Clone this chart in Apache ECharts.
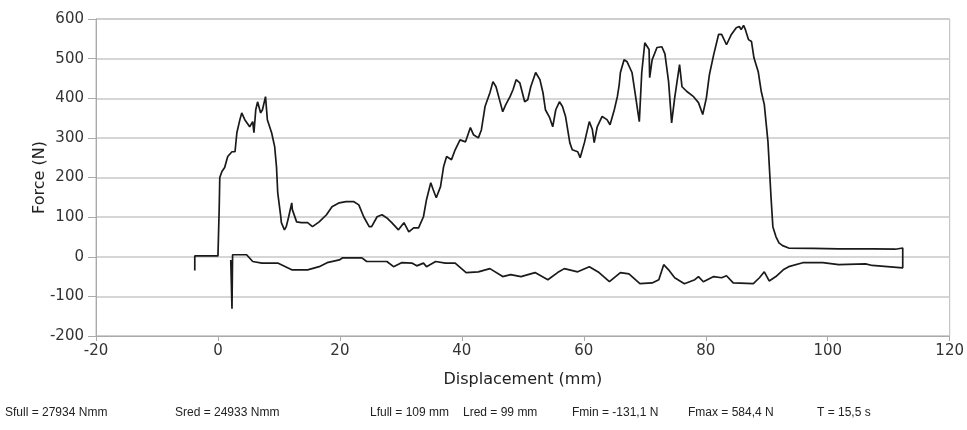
<!DOCTYPE html>
<html>
<head>
<meta charset="utf-8">
<style>
  html, body { margin: 0; padding: 0; background: #fff; }
  #chart { width: 967px; height: 430px; }
</style>
<script src="https://cdn.jsdelivr.net/npm/echarts@6/dist/echarts.min.js"></script>
</head>
<body>
<div id="chart"></div>
<script>
// displacement (mm) / force (N)
// loading branch first, then the return branch back to the left
const dispMm = [
  -3.8, -3.8, 0.0, 0.2, 0.3, 0.65, 1.1, 1.6, 2.3, 2.8, 3.1, 3.6, 3.9, 4.4, 5.2, 5.7, 5.9, 6.2, 6.5, 7.0,
  7.3, 7.8, 8.1, 8.8, 9.3, 9.6, 9.8, 10.3, 10.4, 10.9, 11.2, 11.6, 12.1, 12.2, 12.9, 13.7, 14.7, 15.5, 16.6, 17.8,
  18.7, 19.9, 21.0, 22.3, 23.1, 23.9, 24.8, 25.2, 26.1, 26.9, 27.7, 28.5, 29.6, 30.5, 31.3, 32.1, 32.9, 33.7, 34.2, 34.9,
  35.3, 35.8, 36.5, 37.0, 37.5, 38.3, 38.9, 39.7, 40.6, 41.4, 41.9, 42.7, 43.2, 43.8, 44.6, 45.1, 45.6, 46.3, 46.7, 47.2,
  47.9, 48.4, 48.9, 49.5, 50.3, 50.8, 51.3, 52.1, 52.8, 53.3, 53.7, 54.4, 54.9, 55.4, 56.0, 56.5, 57.0, 57.7, 58.1, 59.0,
  59.4, 60.1, 60.9, 61.4, 61.7, 62.2, 63.0, 63.8, 64.3, 65.0, 65.5, 65.8, 66.0, 66.6, 67.1, 67.9, 68.4, 69.1, 69.5, 70.0,
  70.7, 70.8, 71.2, 72.0, 72.8, 73.3, 73.9, 74.4, 74.9, 75.7, 76.1, 76.9, 78.0, 78.8, 79.5, 80.1, 80.6, 81.3, 82.1, 82.6,
  83.4, 84.2, 85.0, 85.5, 85.8, 86.2, 86.5, 87.0, 87.5, 87.9, 88.6, 89.1, 89.6, 90.2, 90.7, 91.0, 91.5, 92.0, 92.6, 93.6,
  97.6, 101.8, 107.3, 111.1, 112.3, 112.3,
  107.3, 106.2, 101.8, 99.2, 95.9, 93.6, 92.7, 91.5, 90.4, 89.6, 88.8, 87.8, 84.5, 83.4, 82.6, 81.3, 79.6, 78.8, 78.2, 76.5,
  74.9, 73.9, 73.1, 72.3, 71.2, 69.2, 67.4, 66.0, 64.2, 62.5, 60.9, 59.0, 56.8, 55.7, 55.4, 54.1, 52.0, 49.7, 48.0, 46.7,
  44.6, 42.7, 40.7, 38.9, 37.3, 35.7, 34.2, 33.7, 32.6, 31.8, 30.1, 28.8, 27.7, 24.4, 23.6, 20.4, 19.9, 17.9, 16.6, 14.7,
  12.1, 9.8, 7.2, 5.7, 4.7, 2.4, 2.3, 2.1
]
const forceN = [
  -35, 2, 2, 120, 200, 215, 225, 253, 265, 265, 313, 346, 363, 346, 328, 341, 313, 371, 391, 363,
  371, 404, 346, 313, 278, 227, 162, 101, 86, 68, 76, 101, 136, 119, 88, 86, 86, 76, 88, 106,
  126, 136, 139, 139, 131, 101, 76, 76, 101, 106, 98, 86, 68, 86, 63, 73, 73, 101, 144, 187,
  169, 149, 177, 227, 253, 245, 270, 295, 290, 326, 308, 300, 320, 379, 414, 442, 429, 389, 366, 384,
  404, 422, 447, 439, 391, 396, 429, 465, 447, 414, 371, 351, 328, 371, 391, 379, 354, 288, 270, 265,
  250, 288, 341, 321, 288, 328, 354, 346, 333, 371, 404, 434, 465, 497, 492, 465, 414, 341, 465, 540,
  523, 452, 497, 528, 530, 512, 442, 338, 401, 485, 429, 417, 404, 389, 359, 401, 460, 510, 561, 561,
  535, 561, 578, 581, 573, 584, 573, 548, 543, 502, 467, 417, 384, 290, 150, 76, 51, 35, 28, 22,
  21, 20, 20, 19, 22, -28,
  -22, -18, -20, -15, -15, -25, -33, -50, -61, -38, -53, -68, -66, -48, -53, -50, -63, -50, -58, -68,
  -53, -33, -20, -58, -66, -68, -43, -40, -63, -40, -25, -38, -30, -40, -45, -58, -40, -50, -45, -50,
  -30, -38, -40, -16, -16, -12, -25, -16, -23, -16, -15, -25, -12, -12, -3, -3, -8, -15, -25, -33,
  -33, -16, -16, -12, 5, 5, -131, -8
]
// summary line under the chart
const summaryText = [
  'Sfull = 27934 Nmm', 'Sred = 24933 Nmm', 'Lfull = 109 mm', 'Lred = 99 mm',
  'Fmin = -131,1 N', 'Fmax = 584,4 N', 'T = 15,5 s'
]
const summaryLeft = [5, 175, 370, 463, 572, 688, 817]

const chart = echarts.init(document.getElementById('chart'))

const points = dispMm.map((x, i) => [x, forceN[i]])

const axisFont = { fontFamily: 'DejaVu Sans', fontSize: 15, color: '#333' }

const option = {
  animation: false,
  backgroundColor: '#fff',
  grid: {
    left: 96, right: 15, top: 19, bottom: 94,
    show: true, borderColor: '#bbb', borderWidth: 1
  },
  xAxis: {
    type: 'value',
    min: -20, max: 120, interval: 20,
    name: 'Displacement (mm)',
    nameLocation: 'middle',
    nameGap: 36,
    nameMoveOverlap: false,
    nameTextStyle: { fontFamily: 'DejaVu Sans', fontSize: 16, color: '#222' },
    axisLine: { onZero: false, lineStyle: { color: '#aaa' } },
    axisTick: { show: true, length: 5, lineStyle: { color: '#aaa' } },
    axisLabel: Object.assign({ margin: 8 }, axisFont),
    splitLine: { show: false }
  },
  yAxis: {
    type: 'value',
    min: -200, max: 600, interval: 100,
    name: 'Force (N)',
    nameLocation: 'middle',
    nameGap: 48,
    nameMoveOverlap: false,
    nameTextStyle: { fontFamily: 'DejaVu Sans', fontSize: 16, color: '#222' },
    axisLine: { show: true, onZero: false, lineStyle: { color: '#aaa' } },
    axisTick: { show: true, length: 8, lineStyle: { color: '#aaa' } },
    axisLabel: Object.assign({ margin: 12 }, axisFont),
    splitLine: { show: true, lineStyle: { color: '#c8c8c8', width: 1.5 } }
  },
  graphic: summaryText.map((t, i) => ({
    type: 'text',
    left: summaryLeft[i],
    top: 407,
    style: { text: t, font: '12px "Liberation Sans"', fill: '#222' }
  })),
  series: [{
    type: 'line',
    data: points,
    showSymbol: false,
    lineStyle: { color: '#1a1a1a', width: 1.7 },
    z: 3
  }]
}

chart.setOption(option)
</script>
</body>
</html>
